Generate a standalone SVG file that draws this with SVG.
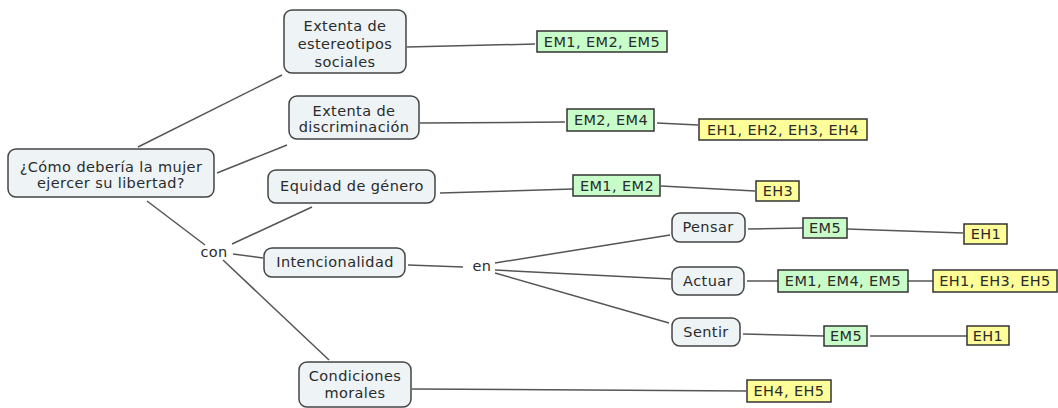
<svg xmlns="http://www.w3.org/2000/svg" width="1058" height="408" viewBox="0 0 1058 408">
<style>
text{font-family:"DejaVu Sans",Verdana,sans-serif;font-size:14.5px;fill:#2b2b2b;letter-spacing:0.4px;text-anchor:middle}
.c{fill:#eef3f5;stroke:#444;stroke-width:1.5}
.g{fill:#c8fcc8;stroke:#333;stroke-width:1.5}
.y{fill:#ffff99;stroke:#333;stroke-width:1.5}
#connectors line{stroke:#555;stroke-width:1.5}
</style>
<rect width="1058" height="408" fill="#fff"/>
<g id="connectors">
<line x1="138" y1="147" x2="282" y2="75"/>
<line x1="217" y1="173" x2="287" y2="145"/>
<line x1="407" y1="47" x2="535" y2="44"/>
<line x1="420" y1="123" x2="565" y2="122"/>
<line x1="657" y1="123" x2="698" y2="125"/>
<line x1="147" y1="201" x2="205" y2="245"/>
<line x1="232" y1="244" x2="312" y2="207"/>
<line x1="233" y1="254" x2="263" y2="258"/>
<line x1="223" y1="260" x2="329" y2="360"/>
<line x1="440" y1="193" x2="573" y2="189"/>
<line x1="661" y1="186" x2="755" y2="191"/>
<line x1="408" y1="265" x2="463" y2="267"/>
<line x1="495" y1="263" x2="670" y2="235"/>
<line x1="495" y1="270" x2="671" y2="279"/>
<line x1="495" y1="273" x2="669" y2="323"/>
<line x1="412" y1="389" x2="746" y2="391"/>
<line x1="748" y1="229" x2="803" y2="228"/>
<line x1="847" y1="229" x2="963" y2="233"/>
<line x1="747" y1="281" x2="778" y2="281"/>
<line x1="908" y1="281" x2="933" y2="281"/>
<line x1="743" y1="334" x2="824" y2="336"/>
<line x1="870" y1="336" x2="967" y2="336"/>
</g>
<g id="root"><rect class="c" x="8" y="149" width="206" height="48" rx="8"/><text x="111" y="172">¿Cómo debería la mujer</text><text x="111" y="188">ejercer su libertad?</text></g>
<g id="estereotipos"><rect class="c" x="284" y="10" width="122" height="63" rx="8"/><text x="345" y="31">Extenta de</text><text x="345" y="49">estereotipos</text><text x="345" y="67">sociales</text></g>
<g id="discriminacion"><rect class="c" x="289" y="96" width="130" height="43" rx="8"/><text x="354" y="116">Extenta de</text><text x="354" y="132">discriminación</text></g>
<g id="equidad"><rect class="c" x="268" y="170" width="167" height="33" rx="8"/><text x="352" y="191">Equidad de género</text></g>
<g id="intencionalidad"><rect class="c" x="264" y="248" width="141" height="29" rx="8"/><text x="335" y="267">Intencionalidad</text></g>
<g id="condiciones"><rect class="c" x="299" y="362" width="112" height="45" rx="8"/><text x="355" y="381">Condiciones</text><text x="355" y="398">morales</text></g>
<g id="pensar"><rect class="c" x="672" y="213" width="73" height="29" rx="8"/><text x="708" y="232">Pensar</text></g>
<g id="actuar"><rect class="c" x="672" y="267" width="72" height="28" rx="8"/><text x="708" y="286">Actuar</text></g>
<g id="sentir"><rect class="c" x="672" y="318" width="68" height="28" rx="8"/><text x="706" y="337">Sentir</text></g>
<g id="con"><text x="214" y="257">con</text></g>
<g id="en"><text x="482" y="271">en</text></g>
<g id="em125"><rect class="g" x="537" y="31" width="130" height="21"/><text x="602" y="47">EM1, EM2, EM5</text></g>
<g id="em24"><rect class="g" x="567" y="109" width="87" height="22"/><text x="611" y="125">EM2, EM4</text></g>
<g id="eh1234"><rect class="y" x="699" y="119" width="168" height="21"/><text x="783" y="135">EH1, EH2, EH3, EH4</text></g>
<g id="em12"><rect class="g" x="573" y="175" width="87" height="21"/><text x="617" y="191">EM1, EM2</text></g>
<g id="eh3"><rect class="y" x="756" y="181" width="43" height="20"/><text x="778" y="196">EH3</text></g>
<g id="em5a"><rect class="g" x="803" y="218" width="44" height="20"/><text x="825" y="233">EM5</text></g>
<g id="eh1a"><rect class="y" x="964" y="224" width="43" height="20"/><text x="986" y="239">EH1</text></g>
<g id="em145"><rect class="g" x="778" y="270" width="130" height="22"/><text x="843" y="286">EM1, EM4, EM5</text></g>
<g id="eh135"><rect class="y" x="933" y="270" width="124" height="22"/><text x="995" y="286">EH1, EH3, EH5</text></g>
<g id="em5b"><rect class="g" x="824" y="326" width="43" height="20"/><text x="846" y="341">EM5</text></g>
<g id="eh1b"><rect class="y" x="967" y="326" width="42" height="19"/><text x="988" y="341">EH1</text></g>
<g id="eh45"><rect class="y" x="747" y="380" width="84" height="22"/><text x="789" y="396">EH4, EH5</text></g>
</svg>
